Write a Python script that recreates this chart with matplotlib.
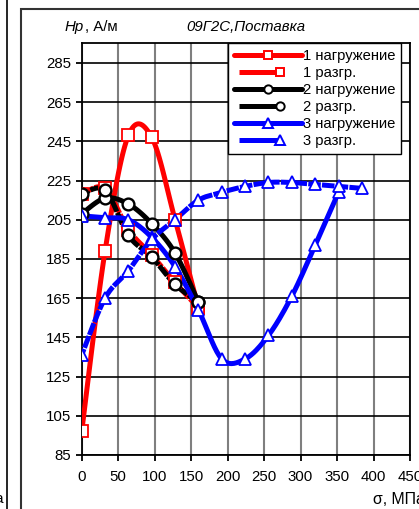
import matplotlib
matplotlib.use("Agg")
import matplotlib.pyplot as plt
import numpy as np
from matplotlib.lines import Line2D
from matplotlib.patches import Rectangle
from matplotlib.legend_handler import HandlerLine2D

plt.rcParams["font.family"] = ["Liberation Sans", "DejaVu Sans"]

# σ, МПа / Hp, А/м
s1_load_x = [0, 32, 64, 96, 128, 160]
s1_load_y = [97, 189, 248, 247, 205, 160]
s1_unl_x = [160, 128, 96, 64, 32, 0]
s1_unl_y = [160, 173, 187, 200, 221, 218]

s2_load_x = [0, 32, 64, 96, 128, 160]
s2_load_y = [208, 216, 213, 203, 188, 163]
s2_unl_x = [160, 128, 96, 64, 32, 0]
s2_unl_y = [163, 172, 186, 197, 220, 218]

s3_load_x = [0, 32, 64, 96, 128, 160, 192, 224, 256, 288, 320, 352]
s3_load_y = [207, 206, 205, 196, 181, 159, 134, 134, 146, 166, 192, 219]
s3_unl_x = [384, 352, 320, 288, 256, 224, 192, 160, 128, 96, 64, 32, 0]
s3_unl_y = [221, 222, 223, 224, 224, 222, 219, 215, 205, 195, 179, 165, 136]

labels = ["1 нагружение", "1 разгр.", "2 нагружение", "2 разгр.",
          "3 нагружение", "3 разгр."]
x_ticks = list(range(0, 451, 50))
y_ticks = list(range(85, 286, 20))

FS = 10.8
FS_LEG = 10.6


def smooth(x, y, n=20):
    """Сглаженная кривая (Безье, как в Excel)."""
    p = np.column_stack([x, y]).astype(float)
    if len(p) < 3:
        return p[:, 0], p[:, 1]
    ext = np.vstack([p[0], p, p[-1]])
    out = []
    t = np.linspace(0, 1, n)[:, None]
    for i in range(1, len(ext) - 2):
        p0, p1, p2, p3 = ext[i - 1], ext[i], ext[i + 1], ext[i + 2]
        c1 = p1 + (p2 - p0) / 6
        c2 = p2 - (p3 - p1) / 6
        seg = ((1 - t) ** 3 * p1 + 3 * (1 - t) ** 2 * t * c1
               + 3 * (1 - t) * t ** 2 * c2 + t ** 3 * p2)
        out.append(seg if i == 1 else seg[1:])
    out = np.vstack(out)
    return out[:, 0], out[:, 1]


class ShortLine(HandlerLine2D):
    """Короткий образец линии для разгрузочных кривых."""

    def create_artists(self, legend, orig_handle, xdescent, ydescent,
                       width, height, fontsize, trans):
        arts = super().create_artists(legend, orig_handle, xdescent,
                                      ydescent, width, height, fontsize,
                                      trans)
        line = arts[0]
        xd = line.get_xdata()
        yd = line.get_ydata()
        x0, x1 = xd[0], xd[-1]
        L = x1 - x0
        line.set_data([x0 + 0.07 * L, x0 + 0.68 * L], [yd[0], yd[0]])
        line.set_linestyle("-")
        line.set_solid_capstyle("butt")
        return arts


fig = plt.figure(figsize=(4.19, 5.09), dpi=100)
fig.patch.set_facecolor("white")
ax = fig.add_axes([81.7 / 419, 1 - 455 / 509, (410 - 81.7) / 419,
                   (455 - 43.3) / 509])

series = [
    (s1_load_x, s1_load_y, "red", "s", False),
    (s1_unl_x, s1_unl_y, "red", "s", True),
    (s2_load_x, s2_load_y, "black", "o", False),
    (s2_unl_x, s2_unl_y, "black", "o", True),
    (s3_load_x, s3_load_y, "blue", "^", False),
    (s3_unl_x, s3_unl_y, "blue", "^", True),
]
msize = {"s": 8.5, "o": 8.5, "^": 9}
handles = []
hmap = {}
for (x, y, c, m, dashed), lab in zip(series, labels):
    sx, sy = smooth(x, y)
    ls = (0, (2.5, 0.25)) if dashed else "-"
    ax.plot(sx, sy, color=c, lw=3.6, ls=ls, solid_capstyle="round",
            dash_capstyle="butt", zorder=3)
    ax.plot(x, y, ls="none", marker=m, ms=msize[m], mfc="white", mec=c,
            mew=1.7 if m == "o" else 1.3, zorder=4)
    h = Line2D([], [], color=c, lw=3.6, marker=m, ms=msize[m] - 2.5,
               mfc="white", mec=c, mew=1.4, solid_capstyle="round")
    handles.append(h)
    if dashed:
        hmap[h] = ShortLine()

ax.set_xlim(0, 450)
ax.set_ylim(85, 295)
ax.set_xticks(x_ticks)
ax.set_yticks(y_ticks)
ax.xaxis.grid(True, color="#7f7f7f", lw=1.5)
ax.yaxis.grid(True, color="black", lw=1.2)
ax.set_axisbelow(True)
for sp in ax.spines.values():
    sp.set_color("black")
    sp.set_linewidth(1.3)
ax.tick_params(axis="both", direction="out", length=4, width=1.3,
               labelsize=FS, colors="black")
ax.tick_params(axis="x", pad=6.5)
ax.tick_params(axis="y", pad=3.5)

leg = ax.legend(handles, labels, handler_map=hmap, loc="upper right",
                bbox_to_anchor=(0.9726, 1.0), borderaxespad=0,
                fontsize=FS_LEG, handlelength=4.6, handletextpad=0.05,
                labelspacing=0.2, borderpad=0.4, fancybox=False,
                framealpha=1, edgecolor="black")
leg.get_frame().set_linewidth(1.0)

fig.text(65 / 419, 1 - 27 / 509, "Hp", style="italic", fontsize=FS,
         va="center", ha="left")
fig.text(85 / 419, 1 - 27 / 509, ", А/м", fontsize=FS, va="center",
         ha="left")
fig.text(246 / 419, 1 - 27 / 509, "09Г2С,Поставка", style="italic",
         fontsize=FS, va="center", ha="center")
fig.text(373 / 419, 1 - 499 / 509, "σ, МПа", fontsize=11.4, va="center",
         ha="left")
fig.text(4 / 419, 1 - 499 / 509, "МПа", fontsize=FS, va="center",
         ha="right")

fig.add_artist(Rectangle((21 / 419, -0.1), 1.2, 1 - 9 / 509 + 0.1,
                         transform=fig.transFigure, fill=False,
                         ec="#333333", lw=1.5))
fig.add_artist(Line2D([7 / 419, 7 / 419], [0, 1], transform=fig.transFigure,
                      color="black", lw=1.2))

fig.savefig("out.png", dpi=100, facecolor="white")
